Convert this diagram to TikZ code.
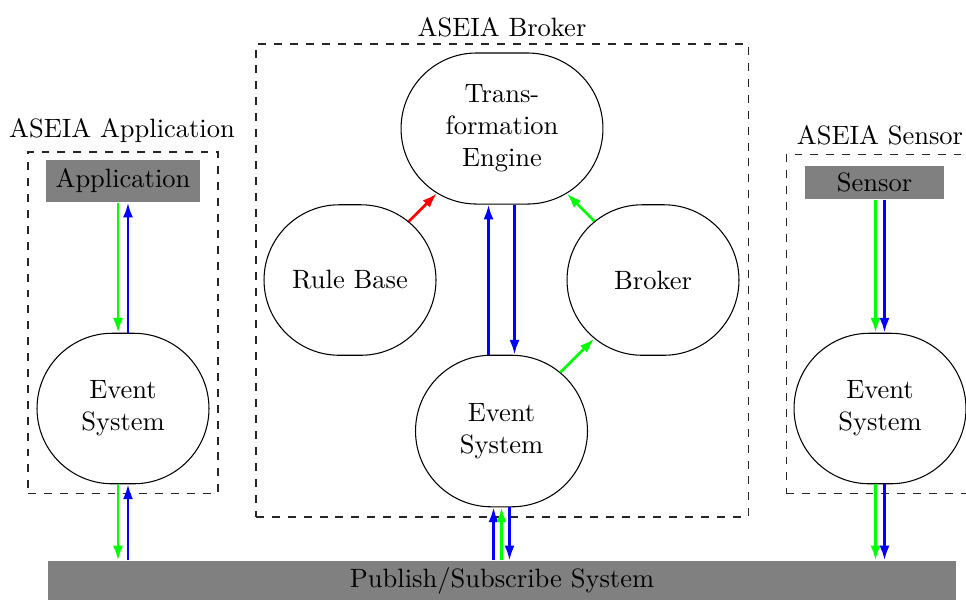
\documentclass[tikz,border=0pt]{standalone}
\usetikzlibrary{shapes.misc,arrows.meta,calc}
\begin{document}
\begin{tikzpicture}[x=0.3774pt,y=-0.3774pt,
  proc/.style={rounded rectangle,draw,align=center,inner sep=0pt,
    minimum height=56.8pt,minimum width=64.9pt},
  bar/.style={fill=gray,inner sep=0pt},
  group/.style={draw=black!85,dashed,inner sep=0pt},
  flow/.style={line width=1pt,-{Latex[length=5.6pt,width=3.8pt]}},
]
\useasboundingbox (0,0) rectangle (966,599);
\clip (0,0) rectangle (966,599);

% dashed group frames and their titles
\node[group,minimum width=185.7pt,minimum height=178.5pt] (brokergrp) at (502,280.5) {};
\node[group,minimum width=71.7pt,minimum height=128.7pt] (appgrp) at (123,322.5) {};
\node[group,minimum width=71.3pt,minimum height=127.6pt] (sensgrp) at (880.5,324) {};
\node[anchor=base] (brokerlbl) at (502,36) {ASEIA Broker};
\node[anchor=base] (applbl) at (122,137) {ASEIA Application};
\node[anchor=base] (senslbl) at (880,144) {ASEIA Sensor};

% broker components
\node[proc,minimum width=76.2pt,minimum height=57pt] (te) at (502,128.5) {Trans-\\formation\\Engine};
\node[proc] (rb) at (350,280) {Rule Base};
\node[proc] (br) at (653,280) {Broker};
\node[proc,minimum height=57.2pt] (bes) at (501.5,431) {Event\\System};

% application side
\node[bar,minimum width=58.1pt,minimum height=15.9pt] (app) at (123,181) {Application};
\node[proc] (appes) at (123,408.5) {Event\\System};

% sensor side
\node[bar,minimum width=52.5pt,minimum height=12.5pt] (sens) at (874.5,182.5) {Sensor};
\node[proc] (sensES) at (880,408.5) {Event\\System};

% publish/subscribe bus
\node[bar,minimum width=342.7pt,minimum height=15.1pt] (bus) at (502,581) {Publish/Subscribe System};

% application connectors
\coordinate (a1) at ($(appes.north)+(-5,0)$);
\coordinate (a2) at ($(appes.north)+(5,0)$);
\coordinate (a3) at ($(appes.south)+(-5,0)$);
\coordinate (a4) at ($(appes.south)+(5,0)$);
\draw[flow,green] (a1 |- app.south) -- (a1);
\draw[flow,blue] (a2) -- (a2 |- app.south);
\draw[flow,green] (a3) -- (a3 |- bus.north);
\draw[flow,blue] (a4 |- bus.north) -- (a4);

% broker connectors
\coordinate (b1) at ($(bes.north)+(-13,0)$);
\coordinate (b2) at ($(bes.north)+(13,0)$);
\draw[flow,blue] (b1) -- (b1 |- te.south);
\draw[flow,blue] (b2 |- te.south) -- (b2);
\draw[flow,red] (rb) -- (te);
\draw[flow,green] (br) -- (te);
\draw[flow,green] (bes) -- (br);
\coordinate (b3) at ($(bes.south)+(-8,0)$);
\coordinate (b4) at ($(bes.south)+(0,0)$);
\coordinate (b5) at ($(bes.south)+(8,0)$);
\draw[flow,blue] (b3 |- bus.north) -- (b3);
\draw[flow,green] (b4 |- bus.north) -- (b4);
\draw[flow,blue] (b5) -- (b5 |- bus.north);

% sensor connectors
\coordinate (s1) at ($(sensES.north)+(-4.5,0)$);
\coordinate (s2) at ($(sensES.north)+(4.5,0)$);
\coordinate (s3) at ($(sensES.south)+(-4.5,0)$);
\coordinate (s4) at ($(sensES.south)+(4.5,0)$);
\draw[flow,green] (s1 |- sens.south) -- (s1);
\draw[flow,blue] (s2 |- sens.south) -- (s2);
\draw[flow,green] (s3) -- (s3 |- bus.north);
\draw[flow,blue] (s4) -- (s4 |- bus.north);
\end{tikzpicture}
\end{document}
